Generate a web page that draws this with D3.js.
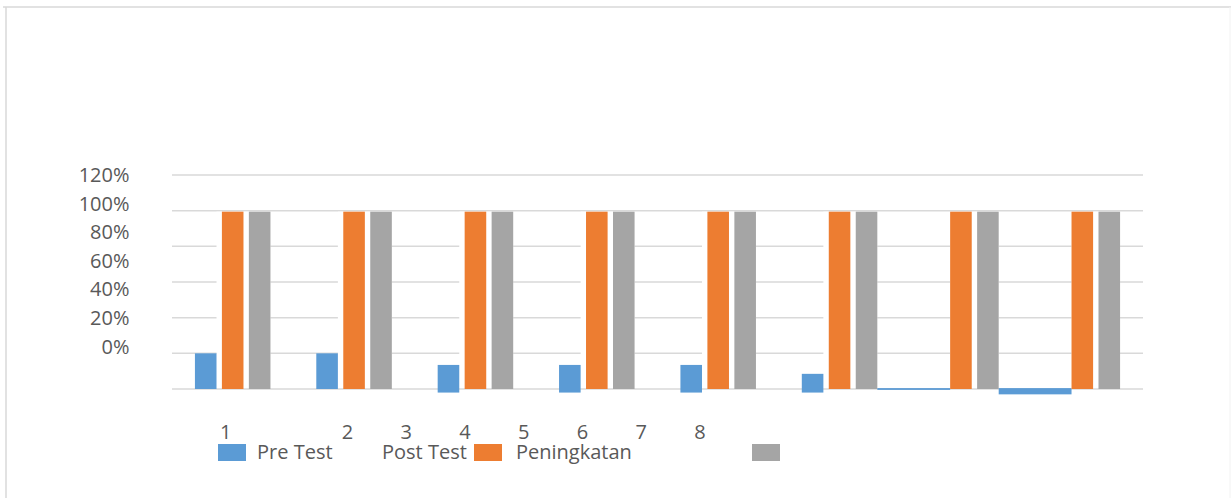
<!DOCTYPE html>
<html>
<head>
<meta charset="utf-8">
<script src="https://cdn.jsdelivr.net/npm/d3@7"></script>
<style>
  body { margin: 0; background: #fff; }
  text { font-family: "Open Sans", sans-serif; fill: #595959; }
</style>
</head>
<body>
<div id="chart"></div>
<script>
// data
const categories = ["1", "2", "3", "4", "5", "6", "7", "8"];
const seriesNames = ["Pre Test", "Post Test", "Peningkatan"];
// pre test bars as [low, high] (the chart draws them a little below zero)
const preLow  = [0, 0, -0.02, -0.02, -0.02, -0.02, -0.005, -0.03];
const preHigh = [0.2, 0.2, 0.135, 0.135, 0.135, 0.085, 0.005, 0.005];
const postTest = [1, 1, 1, 1, 1, 1, 1, 1];
const peningkatan = [1, 1, 1, 1, 1, 1, 1, 1];
const yTicks = [0, 0.2, 0.4, 0.6, 0.8, 1, 1.2];

const colors = ["#5b9bd5", "#ed7d31", "#a5a5a5"];
const width = 1231, height = 498;

const svg = d3.select("#chart").append("svg")
    .attr("width", width)
    .attr("height", height);

// outer frame (only top and left show)
svg.append("line").attr("x1", 3).attr("x2", width).attr("y1", 7).attr("y2", 7)
    .attr("stroke", "#d9d9d9").attr("stroke-width", 1.5);
svg.append("line").attr("x1", 6).attr("x2", 6).attr("y1", 7).attr("y2", height)
    .attr("stroke", "#d9d9d9").attr("stroke-width", 1.5);
svg.append("line").attr("x1", 1230).attr("x2", 1230).attr("y1", 7).attr("y2", height)
    .attr("stroke", "#f2f2f2").attr("stroke-width", 1);

const x0 = d3.scaleBand().domain(categories).range([172, 1143]);
const x1 = d3.scaleBand().domain(seriesNames)
    .range([0, x0.bandwidth()])
    .paddingInner(0.2)
    .paddingOuter(0.85);
const y = d3.scaleLinear().domain([0, 1.2]).range([389, 175]);
// tick labels sit off their gridlines in the original
const yLab = d3.scaleLinear().domain([0, 1.2]).range([346.5, 175]);

// gridlines
svg.append("g").selectAll("line").data(yTicks).join("line")
    .attr("x1", x0.range()[0]).attr("x2", x0.range()[1])
    .attr("y1", d => y(d)).attr("y2", d => y(d))
    .attr("stroke", "#d9d9d9").attr("stroke-width", 1.5);

svg.append("g").selectAll("text").data(yTicks).join("text")
    .attr("x", 129.5)
    .attr("y", d => yLab(d))
    .attr("dy", "0.35em")
    .attr("text-anchor", "end")
    .style("font-size", "20px")
    .text(d => d3.format(".0%")(d));

// blue bar extents: last two groups stretch back to the previous gray bar
function blueX(i) {
  const c = categories[i];
  if (i >= 6) {
    const prev = categories[i - 1];
    return [x0(prev) + x1("Peningkatan") + x1.bandwidth(), x0(c) + x1("Post Test")];
  }
  return [x0(c) + x1("Pre Test"), x0(c) + x1("Pre Test") + x1.bandwidth()];
}

const groups = svg.append("g").selectAll("g").data(categories).join("g");

// white block hiding the gridlines behind each orange/gray pair
groups.append("rect")
    .attr("x", (d, i) => blueX(i)[1])
    .attr("y", y(1) + 1)
    .attr("width", (d, i) => x0(d) + x1("Peningkatan") + x1.bandwidth() - blueX(i)[1])
    .attr("height", y(0) - y(1) - 2)
    .attr("fill", "#fff");

groups.append("rect")
    .attr("x", (d, i) => blueX(i)[0])
    .attr("y", (d, i) => y(preHigh[i]))
    .attr("width", (d, i) => blueX(i)[1] - blueX(i)[0])
    .attr("height", (d, i) => y(preLow[i]) - y(preHigh[i]))
    .attr("fill", colors[0]);

groups.append("rect")
    .attr("x", d => x0(d) + x1("Post Test"))
    .attr("y", (d, i) => y(postTest[i]) + 1)
    .attr("width", x1.bandwidth())
    .attr("height", (d, i) => y(0) - y(postTest[i]) - 1)
    .attr("fill", colors[1]);

groups.append("rect")
    .attr("x", d => x0(d) + x1("Peningkatan"))
    .attr("y", (d, i) => y(peningkatan[i]) + 1)
    .attr("width", x1.bandwidth())
    .attr("height", (d, i) => y(0) - y(peningkatan[i]) - 1)
    .attr("fill", colors[2]);

// category labels (squeezed together in the original)
const xLab = d3.scaleLinear().domain([1, 7]).range([347.5, 700]);
svg.append("g").selectAll("text").data(categories).join("text")
    .attr("x", (d, i) => i === 0 ? x0(d) + x0.bandwidth() / 2 - 7 : xLab(i))
    .attr("y", 432)
    .attr("dy", "0.35em")
    .attr("text-anchor", "middle")
    .style("font-size", "20px")
    .text(d => d);

// legend
const swatchX = [218, 474, 752];
const labelX = [257, 382, 516];
svg.append("g").selectAll("rect").data(seriesNames).join("rect")
    .attr("x", (d, i) => swatchX[i])
    .attr("y", 444)
    .attr("width", 28)
    .attr("height", 17)
    .attr("fill", (d, i) => colors[i]);
svg.append("g").selectAll("text").data(seriesNames).join("text")
    .attr("x", (d, i) => labelX[i])
    .attr("y", 452)
    .attr("dy", "0.35em")
    .style("font-size", "20px")
    .text(d => d);
</script>
</body>
</html>
